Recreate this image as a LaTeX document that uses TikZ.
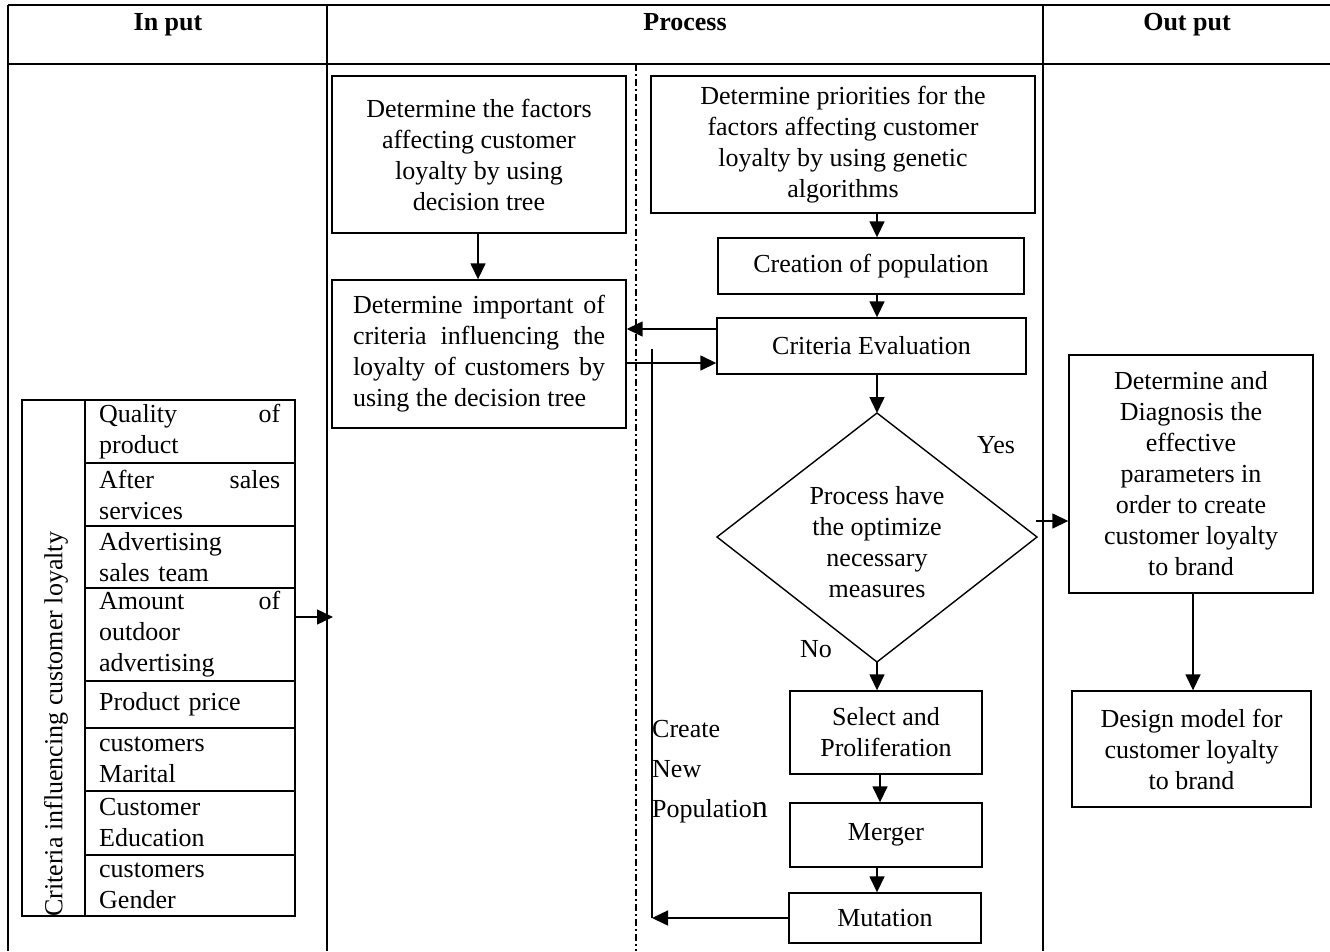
\documentclass[tikz,border=0pt]{standalone}
\usepackage{fontspec}
\setmainfont{Liberation Serif}
\usetikzlibrary{arrows.meta,calc}
\newcommand{\fsz}{\fontsize{26}{31}\selectfont}
\begin{document}
\begin{tikzpicture}[x=1pt,y=-1pt,
  tbl/.style={line width=2pt},
  box/.style={draw, line width=1.4pt, inner sep=0pt, align=center, font=\fsz},
  arr/.style={line width=1.5pt, -{Triangle[length=16pt,width=15pt]}},
  ln/.style={line width=1.5pt},
  txt/.style={inner sep=0pt, font=\fsz},
  cell/.style={inner sep=0pt, font=\fsz, anchor=west, text width=181pt, align=left},
]
\useasboundingbox (0,0) rectangle (1330,951);

% table frame
\draw[tbl] (8,5) -- (1330,5);
\draw[tbl] (8,64) -- (1330,64);
\draw[tbl] (8,5) -- (8,951);
\draw[tbl] (327,5) -- (327,951);
\draw[tbl] (1043,5) -- (1043,951);

% headers
\node[txt, font=\fsz\bfseries, anchor=base] (hin) at (168,30) {In put};
\node[txt, font=\fsz\bfseries, anchor=base] (hpr) at (685,30) {Process};
\node[txt, font=\fsz\bfseries, anchor=base] (hout) at (1187,30) {Out put};

% dashed divider in process column
\draw[line width=1.4pt, dash pattern=on 7pt off 3pt on 2pt off 3pt] (636,64) -- (636,951);

% left criteria table
\draw[ln] (22,400) rectangle (295,916);
\draw[ln] (85,400) -- (85,916);
\foreach \yy in {463,526,588,681,728,791,855} {\draw[ln] (85,\yy) -- (295,\yy);}
\node[txt, rotate=90, anchor=west] (crit) at (56,917) {Criteria influencing customer loyalty};
\node[cell] (c1) at (99,431.5) {Quality\hfill of\\product};
\node[cell] (c2) at (99,494.5) {After\hfill sales\\services};
\node[cell] (c3) at (99,557) {Advertising\\sales team};
\node[cell] (c4) at (99,634.5) {Amount\hfill of\\outdoor\\advertising};
\node[cell] (c5) at (99,704.5) {Product price};
\node[cell] (c6) at (99,759.5) {customers\\Marital};
\node[cell] (c7) at (99,823) {Customer\\Education};
\node[cell] (c8) at (99,885.5) {customers\\Gender};
\coordinate (tabR) at (296,617);
\coordinate (procL) at (333,617);
\draw[arr] (tabR) -- (procL);

% process boxes
\node[box, minimum width=294pt, minimum height=157pt] (A) at (479,154.5)
  {Determine the factors\\affecting customer\\loyalty by using\\decision tree};
\node[box, minimum width=294pt, minimum height=148pt] (B) at (479,354)
  {\parbox{252pt}{\makebox[252pt][s]{Determine important of}\\
   \makebox[252pt][s]{criteria influencing the}\\
   \makebox[252pt][s]{loyalty of customers by}\\
   using the decision tree}};
\node[box, minimum width=384pt, minimum height=137pt] (C) at (843,144.5)
  {Determine priorities for the\\factors affecting customer\\loyalty by using genetic\\algorithms};
\node[box, minimum width=306pt, minimum height=56pt] (D) at (871,266) {Creation of population};
\node[box, minimum width=309pt, minimum height=56pt] (E) at (871.5,346) {Criteria Evaluation};

% decision diamond
\coordinate (dT) at (877,413);
\coordinate (dR) at (1037,537);
\coordinate (dB) at (877,662);
\coordinate (dL) at (717,537);
\draw[line width=1.4pt] (dT) -- (dR) -- (dB) -- (dL) -- cycle;
\node[txt, align=center] (dtext) at (877,542) {Process have\\the optimize\\necessary\\measures};
\node[txt] (yes) at (996,445) {Yes};
\node[txt] (no) at (816,649) {No};

\node[box, minimum width=192pt, minimum height=83pt] (S) at (886,732.5) {Select and\\Proliferation};
\node[box, minimum width=192pt, minimum height=64pt] (M) at (886,835) {Merger};
\node[box, minimum width=192pt, minimum height=50pt] (U) at (885,918) {Mutation};

% output boxes
\node[box, minimum width=244pt, minimum height=238pt] (F) at (1191,474)
  {Determine and\\Diagnosis the\\effective\\parameters in\\order to create\\customer loyalty\\to brand};
\node[box, minimum width=239pt, minimum height=116pt] (G) at (1191.5,749)
  {Design model for\\customer loyalty\\to brand};

% connectors
\draw[arr] (A.south -| 478,0) -- (B.north -| 478,0);
\draw[arr] (C.south -| dT) -- (D.north -| dT);
\draw[arr] (D.south -| dT) -- (E.north -| dT);
\draw[arr] (E.south -| dT) -- (dT);
\draw[arr] ([yshift=17pt]E.west) -- ([yshift=17pt]E.west -| B.east);
\draw[arr] ([yshift=-9pt]B.east) -- ([yshift=-9pt]B.east -| E.west);
\draw[arr] (dB) -- (S.north -| dB);
\draw[arr] (S.south -| 880,0) -- (M.north -| 880,0);
\draw[arr] (M.south -| dB) -- (U.north -| dB);
\coordinate (lp) at (652,349);
\draw[arr] (U.west) -- (U.west -| lp);
\draw[ln] (U.west -| lp) -- (lp);
\node[inner sep=0pt, anchor=west, align=left, font=\fontsize{26}{40}\selectfont] (cnp) at (652,772)
  {Create\\New\\Populatio{\fontsize{32}{40}\selectfont n}};
\coordinate (yesS) at (1036,521);
\draw[arr] (yesS) -- (yesS -| F.west);
\draw[arr] (F.south -| 1193,0) -- (G.north -| 1193,0);
\end{tikzpicture}
\end{document}
